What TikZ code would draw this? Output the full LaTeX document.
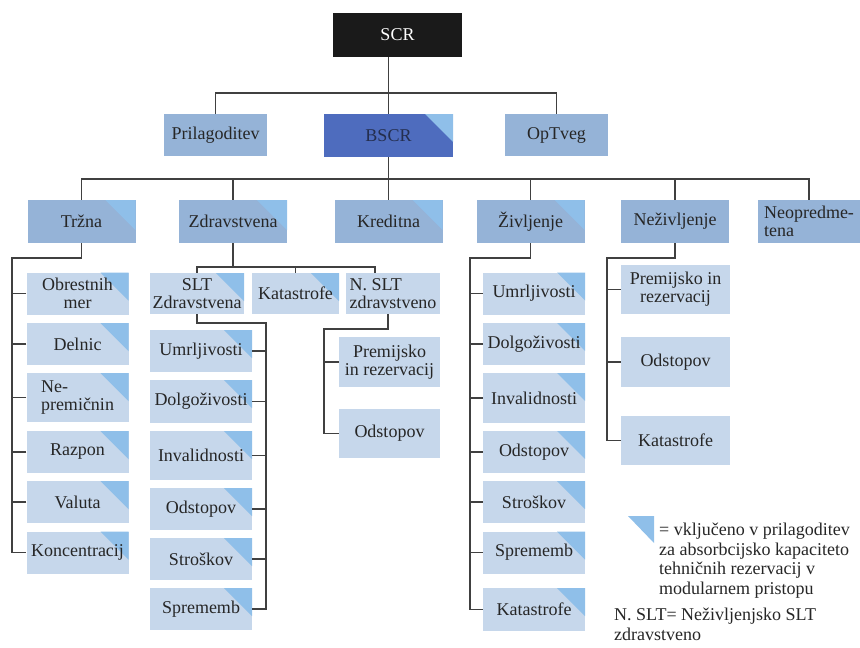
\documentclass[tikz,border=0pt]{standalone}
\usepackage{fontspec}
\setmainfont{Liberation Serif}
\definecolor{nearblack}{RGB}{26,26,26}
\definecolor{boxblue}{RGB}{149,179,215}
\definecolor{paleblue}{RGB}{198,215,235}
\definecolor{darkblue}{RGB}{78,108,190}
\definecolor{triblue}{RGB}{143,191,233}
\definecolor{linegray}{RGB}{64,64,64}
\definecolor{textgray}{RGB}{38,38,38}
\definecolor{navytext}{RGB}{36,46,78}

\begin{document}
\begin{tikzpicture}[x=1pt,y=-1pt,
  font=\fontsize{18}{18}\selectfont,
  every node/.style={inner sep=0pt,text=textgray},
  box/.style={fill=boxblue,minimum width=108pt,minimum height=43pt},
  sub/.style={fill=paleblue,minimum width=102pt,minimum height=42pt},
  incl/.style={path picture={\fill [triblue] (path picture bounding box.north east) -- ++(-#1,0) -- ++(#1,-#1) -- cycle;}},
  incl/.default=28pt,
  link/.style={draw=linegray,line width=1.2pt}]

\useasboundingbox (0,0) rectangle (860,648);

% top level
\node (scr) at (397.5,35) [fill=nearblack,minimum width=129pt,minimum height=44pt,text=white] {SCR};
\node (pril) at (215.5,135) [box,minimum width=103pt,minimum height=42pt] {Prilagoditev};
\node (bscr) at (388.5,135.5) [box,fill=darkblue,minimum width=129pt,incl,text=navytext] {BSCR};
\node (optveg) at (556.5,135) [box,minimum width=103pt,minimum height=42pt] {OpTveg};

% risk modules
\node (trzna) at (81.5,221.5) [box,incl=30pt] {Tržna};
\node (zdrav) at (233,221.5) [box,incl=30pt] {Zdravstvena};
\node (kred) at (388.5,221.5) [box,incl=30pt] {Kreditna};
\node (ziv) at (530.5,221.5) [box,incl=30pt] {Življenje};
\node (neziv) at (675,221.5) [box] {Neživljenje};
\node (neopr) at (809,221.5) [box,minimum width=102pt,align=left] {Neopredme-\\tena};

% trzna submodules
\node (obr) at (77.5,293.5) [sub,incl,align=center] {Obrestnih\\mer};
\node (deln) at (77.5,344) [sub,incl] {Delnic};
\node (nepr) at (77.5,397.5) [sub,incl,minimum height=49pt,align=left] {Ne-\\premičnin};
\node (razp) at (77.5,452) [sub,incl] {Razpon};
\node (val) at (77.5,502) [sub,incl] {Valuta};
\node (konc) at (77.5,552.5) [sub,incl] {Koncentracij};

% zdravstvena submodules
\node (slt) at (197,293.5) [sub,incl,minimum width=94pt,minimum height=41pt,align=center] {SLT\\Zdravstvena};
\node (zkat) at (295.5,293.5) [sub,incl,minimum width=87pt,minimum height=41pt] {Katastrofe};
\node (nslt) at (393,293.5) [sub,minimum width=94pt,minimum height=41pt,align=left] {N. SLT\\zdravstveno};

\node (umr1) at (201,351) [sub,incl] {Umrljivosti};
\node (dolg1) at (201,401.5) [sub,incl,minimum height=43pt] {Dolgoživosti};
\node (inv1) at (201,455.5) [sub,incl,minimum height=49pt] {Invalidnosti};
\node (odst1) at (201,509) [sub,incl] {Odstopov};
\node (stro1) at (201,559) [sub,incl] {Stroškov};
\node (spr1) at (201,609) [sub,incl] {Sprememb};

\node (prem1) at (389.5,362) [sub,minimum width=101pt,minimum height=50pt,align=center] {Premijsko\\in rezervacij};
\node (odst2) at (389.5,433.5) [sub,minimum width=101pt,minimum height=49pt] {Odstopov};

% zivljenje submodules
\node (umr2) at (534,293.5) [sub,incl] {Umrljivosti};
\node (dolg2) at (534,344) [sub,incl] {Dolgoživosti};
\node (inv2) at (534,398) [sub,incl,minimum height=50pt] {Invalidnosti};
\node (odst3) at (534,452) [sub,incl] {Odstopov};
\node (stro2) at (534,502) [sub,incl] {Stroškov};
\node (spr2) at (534,552.5) [sub,incl] {Sprememb};
\node (kat2) at (534,609.5) [sub,incl,minimum height=43pt] {Katastrofe};

% nezivljenje submodules
\node (prem2) at (675.5,289.5) [sub,minimum width=109pt,minimum height=49pt,align=center] {Premijsko in\\rezervacij};
\node (odst4) at (675.5,362) [sub,minimum width=109pt,minimum height=50pt] {Odstopov};
\node (kat3) at (675.5,440.5) [sub,minimum width=109pt,minimum height=49pt] {Katastrofe};

% connectors from the top
\coordinate (b1) at (388.5,93);
\draw [link] (scr.south -| bscr.north) -- (bscr.north);
\draw [link] (pril.north) |- (b1) -| (optveg.north);

\coordinate (b2) at (388.5,179);
\draw [link] (bscr.south) -- (kred.north);
\draw [link] (trzna.north) |- (b2) -| (neopr.north);
\draw [link] (zdrav.north) -- (zdrav.north |- b2);
\draw [link] (ziv.north) -- (ziv.north |- b2);
\draw [link] (neziv.north) -- (neziv.north |- b2);

% trzna tree
\coordinate (tb) at (12,258);
\draw [link] (trzna.south) |- (tb) |- (konc.west);
\draw [link] (obr.west) -- (obr.west -| tb);
\draw [link] (deln.west) -- (deln.west -| tb);
\draw [link] (nepr.west) -- (nepr.west -| tb);
\draw [link] (razp.west) -- (razp.west -| tb);
\draw [link] (val.west) -- (val.west -| tb);

% zdravstvena tree
\coordinate (zb) at (233,267);
\draw [link] (zdrav.south) -- (zb);
\draw [link] (slt.north) |- (zb) -| ([xshift=-18pt]nslt.north);
\draw [link] (zkat.north) -- (zkat.north |- zb);

\coordinate (sb) at (266,323);
\draw [link] (slt.south) |- (sb) |- (spr1.east);
\draw [link] (umr1.east) -- (umr1.east -| sb);
\draw [link] (dolg1.east) -- (dolg1.east -| sb);
\draw [link] (inv1.east) -- (inv1.east -| sb);
\draw [link] (odst1.east) -- (odst1.east -| sb);
\draw [link] (stro1.east) -- (stro1.east -| sb);

\coordinate (nb) at (324,329);
\draw [link] ([xshift=-5pt]nslt.south) |- (nb) |- (odst2.west);
\draw [link] (prem1.west) -- (prem1.west -| nb);

% zivljenje tree
\coordinate (vb) at (470,258);
\draw [link] (ziv.south) |- (vb) |- (kat2.west);
\draw [link] (umr2.west) -- (umr2.west -| vb);
\draw [link] (dolg2.west) -- (dolg2.west -| vb);
\draw [link] (inv2.west) -- (inv2.west -| vb);
\draw [link] (odst3.west) -- (odst3.west -| vb);
\draw [link] (stro2.west) -- (stro2.west -| vb);
\draw [link] (spr2.west) -- (spr2.west -| vb);

% nezivljenje tree
\coordinate (nzb) at (607,258);
\draw [link] (neziv.south) |- (nzb) |- (kat3.west);
\draw [link] (prem2.west) -- (prem2.west -| nzb);
\draw [link] (odst4.west) -- (odst4.west -| nzb);

% legend
\fill [triblue] (628,516) -- (654,516) -- (654,543) -- cycle;
\node (legtext) at (659,523) [anchor=north west,align=left,font=\fontsize{18}{19.5}\selectfont] {= vključeno v prilagoditev\\za absorbcijsko kapaciteto\\tehničnih rezervacij v\\modularnem pristopu};
\node (abbr) at (614,608) [anchor=north west,align=left,font=\fontsize{18}{19.5}\selectfont] {N. SLT= Neživljenjsko SLT\\zdravstveno};

\end{tikzpicture}
\end{document}
